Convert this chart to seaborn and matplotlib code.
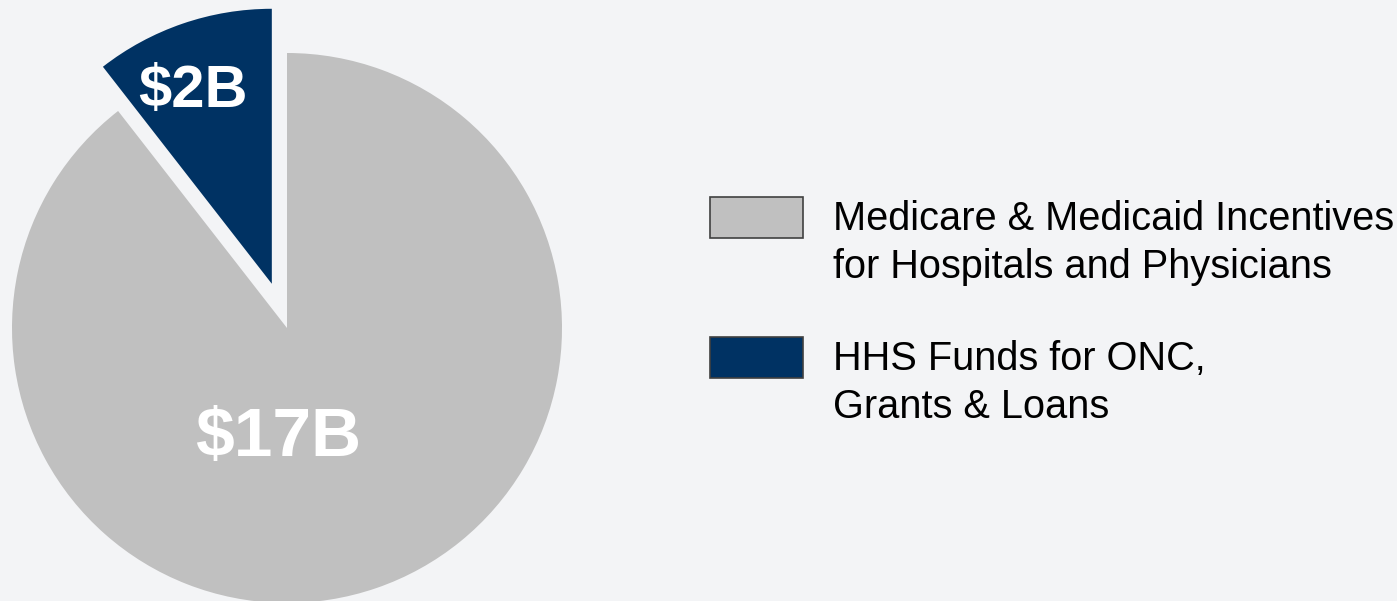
import matplotlib
matplotlib.use("Agg")
import matplotlib.pyplot as plt
import seaborn as sns
from matplotlib.patches import Patch, Rectangle
from matplotlib.legend_handler import HandlerPatch

# Data (billions of dollars)
categories = ["HHS Funds for ONC,\nGrants & Loans",
              "Medicare & Medicaid Incentives\nfor Hospitals and Physicians"]
values = [2, 17]
value_labels = ["$2B", "$17B"]
colors = ["#003263", "#C0C0C0"]
bg = "#F3F4F6"

sns.set_theme(style="white")
plt.rcParams["font.family"] = ["Liberation Sans", "DejaVu Sans"]

fig = plt.figure(figsize=(13.97, 6.01), dpi=100, facecolor=bg)
ax = fig.add_axes([12 / 1397, -2 / 601, 550 / 1397, 550 / 601])
ax.set_facecolor(bg)

wedges, _ = ax.pie(values, colors=colors, startangle=90, counterclock=True,
                   explode=[0.17, 0], radius=1,
                   wedgeprops=dict(linewidth=0))
for w in wedges:
    w.set_clip_on(False)
ax.set_xlim(-1, 1)
ax.set_ylim(-1, 1)
ax.set_aspect("equal")
ax.axis("off")

# value labels inside the slices
ax.text(-0.342, 0.86, value_labels[0], color="white", fontsize=43,
        fontweight="bold", ha="center", va="center")
ax.text(-0.033, -0.40, value_labels[1], color="white", fontsize=50,
        fontweight="bold", ha="center", va="center")


# legend boxes sit level with the first line of each label
def top_box(legend, orig_handle, xdescent, ydescent, width, height, fontsize):
    return Rectangle((-xdescent, -ydescent + 18), width, height * 1.11)


handles = [Patch(facecolor=colors[1], edgecolor="#404040", linewidth=1.2),
           Patch(facecolor=colors[0], edgecolor="#404040", linewidth=1.2)]
labels = [categories[1], categories[0]]
leg = fig.legend(handles, labels, loc="upper left",
                 bbox_to_anchor=(710 / 1397, 1 - 200 / 601),
                 frameon=False, fontsize=28.6, handlelength=2.34, handleheight=1.05,
                 handletextpad=0.76, labelspacing=1.38, borderaxespad=0, borderpad=0,
                 handler_map={Patch: HandlerPatch(patch_func=top_box)})
for t in leg.get_texts():
    t.set_color("black")
    t.set_linespacing(1.32)

fig.savefig("out.png", dpi=100, facecolor=bg)
